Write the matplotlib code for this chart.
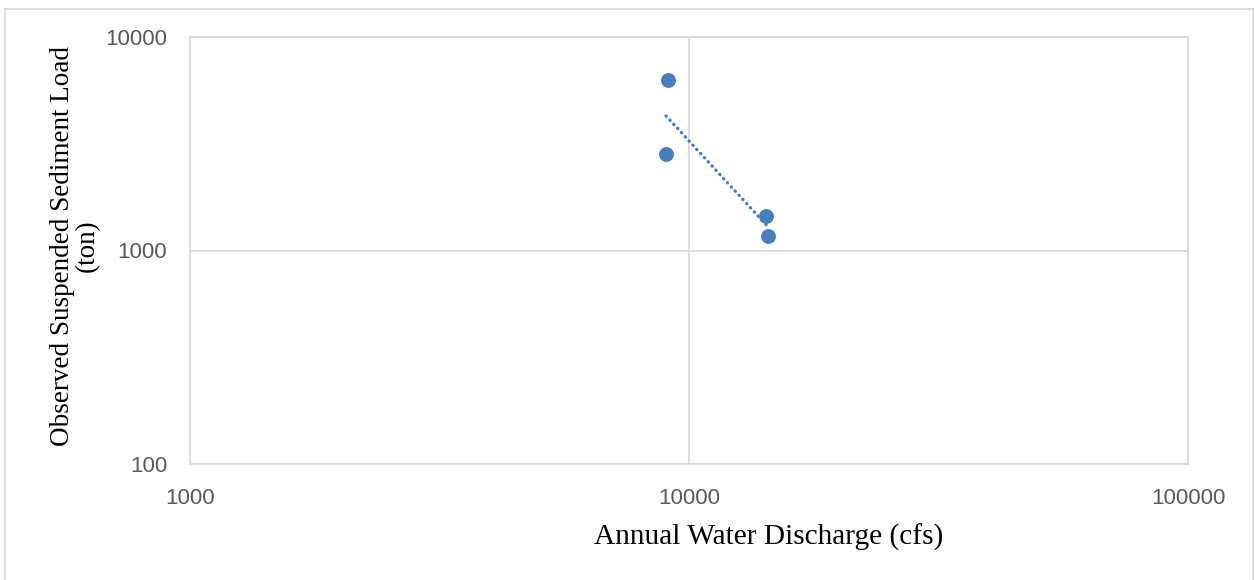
import numpy as np
import matplotlib.pyplot as plt
from matplotlib.patches import Rectangle

# Caudal anual y carga de sedimento observada
caudal_cfs = [9075, 8994, 14270, 14415]
carga_ton = [6310, 2840, 1446, 1169]

ticks_x = [1000, 10000, 100000]
ticks_y = [100, 1000, 10000]

COLOR_PUNTOS = "#4a7ebb"
COLOR_TEXTO_EJES = "#595959"
COLOR_REJILLA = "#d9d9d9"

fig = plt.figure(figsize=(12.54, 5.8), dpi=100)
ax = fig.add_axes([190 / 1254, 1 - 464 / 580, 998 / 1254, 427 / 580])

# Marco exterior del gráfico
fig.patches.append(Rectangle((5 / 1254, -0.01), 1247.5 / 1254, 1 - 9 / 580 + 0.01,
                             transform=fig.transFigure, fill=False,
                             edgecolor="#d9d9d9", linewidth=1.2))

ax.set_xscale("log")
ax.set_yscale("log")
ax.set_xlim(1000, 100000)
ax.set_ylim(100, 10000)

ax.scatter(caudal_cfs, carga_ton, s=115, color=COLOR_PUNTOS, zorder=3,
           linewidths=0)

# Línea de tendencia potencial (ajuste en escala log-log)
lx = np.log10(caudal_cfs)
ly = np.log10(carga_ton)
b, a = np.polyfit(lx, ly, 1)
xt = np.array([min(caudal_cfs), max(caudal_cfs)])
yt = 10 ** (a + b * np.log10(xt))
ax.plot(xt, yt, color=COLOR_PUNTOS, linewidth=2.4, linestyle=(0, (0.1, 1.6)),
        dash_capstyle="round", zorder=2)

ax.set_xticks(ticks_x)
ax.set_xticklabels([str(t) for t in ticks_x])
ax.set_yticks(ticks_y)
ax.set_yticklabels([str(t) for t in ticks_y])
ax.minorticks_off()
ax.tick_params(length=0, labelsize=16, labelcolor=COLOR_TEXTO_EJES)
for lab in ax.get_xticklabels() + ax.get_yticklabels():
    lab.set_fontfamily("Liberation Sans")
ax.tick_params(axis="x", pad=17)
ax.tick_params(axis="y", pad=16.5)

ax.grid(True, color=COLOR_REJILLA, linewidth=1.2)
for lado in ["top", "right", "bottom", "left"]:
    ax.spines[lado].set_color(COLOR_REJILLA)
    ax.spines[lado].set_linewidth(1.2)
ax.set_axisbelow(True)

# Títulos de ejes colocados a mano (el del eje X va desplazado a la derecha)
fig.text(768.5 / 1254, 1 - 545 / 580, "Annual Water Discharge (cfs)",
         fontsize=21.2, fontfamily="Liberation Serif", ha="center",
         va="baseline")
fig.text(75 / 1254, 1 - 246 / 580, "Observed Suspended Sediment Load\n(ton)",
         fontsize=19.5, fontfamily="Liberation Serif", ha="center",
         va="center", rotation=90, multialignment="center", linespacing=1.0)

fig.savefig("out.png", dpi=100)
